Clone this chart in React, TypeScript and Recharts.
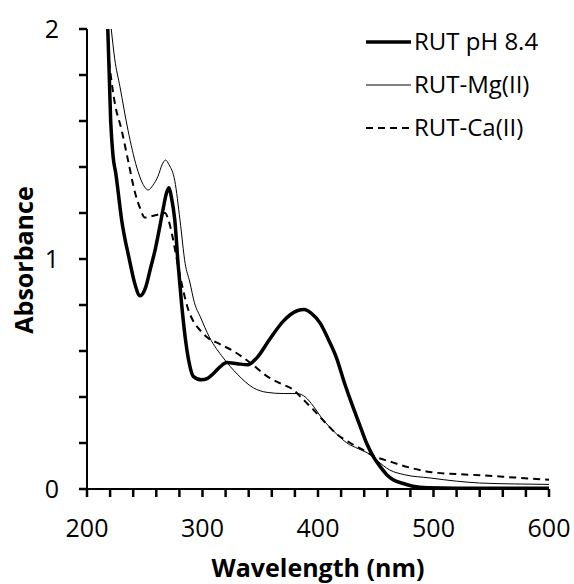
// UV-Vis absorption spectra of rutin and its Mg(II) / Ca(II) complexes
import { LineChart, Line, XAxis, YAxis, Customized } from 'recharts';

type Pt = { wl: number; abs: number };

// RUT pH 8.4 (thick line)
const rutWl = [218, 220.5, 222.5, 225, 230, 237, 241, 246, 251, 255, 259, 263, 266, 269, 271, 273, 276, 279, 282, 285, 288, 292, 299, 304, 309, 315, 321, 330, 339, 347, 358, 370, 382, 388, 394, 402, 409, 416, 423, 430, 436, 442, 448, 454, 460, 465, 473, 482, 495, 520, 600];
const rutAbs = [2.0, 1.6, 1.45, 1.37, 1.17, 0.99, 0.9, 0.84, 0.88, 0.96, 1.04, 1.14, 1.22, 1.29, 1.31, 1.27, 1.17, 0.97, 0.8, 0.66, 0.56, 0.49, 0.475, 0.48, 0.5, 0.53, 0.55, 0.545, 0.54, 0.57, 0.65, 0.73, 0.775, 0.78, 0.765, 0.72, 0.65, 0.57, 0.46, 0.36, 0.28, 0.2, 0.14, 0.096, 0.06, 0.04, 0.025, 0.012, 0.005, 0.003, 0.003];

// RUT-Mg(II) (thin line)
const mgWl = [221, 224, 228.5, 235.5, 243, 248, 253, 257, 261.5, 265, 268, 271, 276, 280.5, 285, 289, 293, 298, 306, 318, 330, 344, 356, 370, 382, 389, 396, 403, 410, 418, 425, 435, 445, 452, 462, 475, 497, 520, 540, 570, 600];
const mgAbs = [2.0, 1.87, 1.75, 1.56, 1.4, 1.33, 1.3, 1.32, 1.36, 1.41, 1.43, 1.41, 1.34, 1.17, 0.98, 0.9, 0.81, 0.75, 0.66, 0.57, 0.5, 0.44, 0.42, 0.415, 0.415, 0.4, 0.36, 0.31, 0.27, 0.23, 0.2, 0.175, 0.15, 0.12, 0.083, 0.062, 0.048, 0.034, 0.026, 0.022, 0.02];

// RUT-Ca(II) (dashed line)
const caWl = [219, 220, 224, 230, 235.5, 241.5, 246, 250, 255, 259, 263, 267.5, 270.5, 273.5, 277, 280, 283, 287, 292, 298, 304, 315, 326.5, 341, 356, 367, 379, 387, 395, 406, 416, 428, 439, 450, 462, 478, 497, 520, 540, 570, 600];
const caAbs = [1.86, 1.82, 1.68, 1.56, 1.43, 1.29, 1.22, 1.18, 1.185, 1.19, 1.195, 1.2, 1.17, 1.11, 1.02, 0.94, 0.87, 0.79, 0.73, 0.69, 0.66, 0.63, 0.6, 0.55, 0.49, 0.46, 0.43, 0.39, 0.35, 0.29, 0.24, 0.2, 0.17, 0.14, 0.12, 0.095, 0.074, 0.065, 0.06, 0.05, 0.04];

const xTicks = [200, 220, 240, 260, 280, 300, 320, 340, 360, 380, 400, 420, 440, 460, 480, 500, 520, 540, 560, 580, 600];
const yTicks = [0, 0.2, 0.4, 0.6, 0.8, 1, 1.2, 1.4, 1.6, 1.8, 2];

const legendItems = [
  { name: 'RUT pH 8.4', width: 3.5, dash: undefined as string | undefined },
  { name: 'RUT-Mg(II)', width: 1, dash: undefined as string | undefined },
  { name: 'RUT-Ca(II)', width: 2, dash: '7 5' },
];

const zip = (wl: number[], abs: number[]): Pt[] => wl.map((w, i) => ({ wl: w, abs: abs[i] }));

const rutData = zip(rutWl, rutAbs);
const mgData = zip(mgWl, mgAbs);
const caData = zip(caWl, caAbs);

const FONT = '"Open Sans", sans-serif';

// only the 100 nm and whole-number ticks carry a label
const fmtX = (v: number) => (v % 100 === 0 ? String(v) : '');
const fmtY = (v: number) => (Number.isInteger(v) ? String(v) : '');

function LegendBox() {
  return (
    <g>
      {legendItems.map((it, i) => {
        const y = 42 + i * 43;
        return (
          <g key={it.name}>
            <line x1={366} y1={y} x2={411} y2={y} stroke="#000" strokeWidth={it.width} strokeDasharray={it.dash} />
            <text x={414} y={y + 8} fontSize={24} fontFamily={FONT} fill="#000">
              {it.name}
            </text>
          </g>
        );
      })}
    </g>
  );
}

export default function App() {
  return (
    <div style={{ position: 'absolute', left: 0, top: 0, background: '#fff' }}>
      <LineChart width={574} height={584} margin={{ top: 29, right: 25, bottom: 0, left: 0 }}>
        <XAxis
          type="number"
          dataKey="wl"
          domain={[200, 600]}
          ticks={xTicks}
          interval={0}
          height={95}
          stroke="#000"
          strokeWidth={2}
          tickLine={{ stroke: '#000', strokeWidth: 2.5 }}
          tickSize={8}
          tickMargin={22}
          tickFormatter={fmtX}
          tick={{ fontSize: 25, fontFamily: FONT, fill: '#000' }}
          label={{
            content: () => (
              <text x={318} y={577} textAnchor="middle" fontSize={25} fontWeight="bold" fontFamily={FONT} fill="#000">
                Wavelength (nm)
              </text>
            ),
          }}
        />
        <YAxis
          type="number"
          dataKey="abs"
          domain={[0, 2]}
          ticks={yTicks}
          interval={0}
          width={87}
          stroke="#000"
          strokeWidth={2}
          tickLine={{ stroke: '#000', strokeWidth: 2.5 }}
          tickSize={8}
          tickMargin={20}
          tickFormatter={fmtY}
          tick={{ fontSize: 25, fontFamily: FONT, fill: '#000' }}
          label={{
            content: () => (
              <text x={33} y={260} transform="rotate(-90 33 260)" textAnchor="middle" fontSize={25} fontWeight="bold" fontFamily={FONT} fill="#000">
                Absorbance
              </text>
            ),
          }}
        />
        <Line data={mgData} dataKey="abs" type="monotone" stroke="#000" strokeWidth={1} dot={false} isAnimationActive={false} />
        <Line data={caData} dataKey="abs" type="monotone" stroke="#000" strokeWidth={2} strokeDasharray="7 5" dot={false} isAnimationActive={false} />
        <Line data={rutData} dataKey="abs" type="monotone" stroke="#000" strokeWidth={3.5} dot={false} isAnimationActive={false} />
        <Customized component={LegendBox} />
      </LineChart>
    </div>
  );
}
